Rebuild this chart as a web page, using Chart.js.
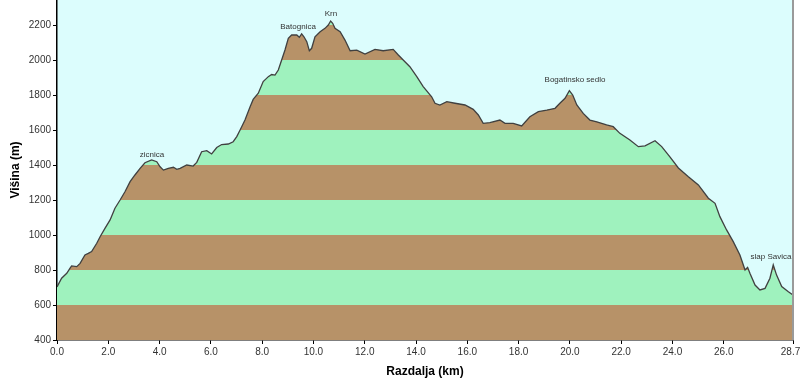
<!DOCTYPE html>
<html>
<head>
<meta charset="utf-8">
<script src="https://cdn.jsdelivr.net/npm/chart.js@4.4.1/dist/chart.umd.min.js"></script>
<style>
  html, body { margin: 0; padding: 0; background: #fff; }
  #wrap { width: 800px; height: 389px; }
</style>
</head>
<body>
<div id="wrap"><canvas id="profile"></canvas></div>
<script>
// distance (km) and elevation (m)
const distance = [0.00, 0.18, 0.38, 0.51, 0.57, 0.77, 0.90, 1.09, 1.22, 1.35, 1.55, 1.68, 1.87, 2.07, 2.26, 2.46, 2.65, 2.85, 3.04, 3.24, 3.43, 3.69, 3.89, 4.02, 4.15, 4.34, 4.54, 4.67, 4.80, 5.06, 5.31, 5.45, 5.64, 5.84, 6.03, 6.23, 6.42, 6.68, 6.87, 7.01, 7.14, 7.33, 7.53, 7.65, 7.85, 8.04, 8.24, 8.37, 8.50, 8.63, 8.76, 8.89, 9.02, 9.15, 9.35, 9.45, 9.54, 9.63, 9.74, 9.84, 9.93, 10.06, 10.26, 10.45, 10.58, 10.67, 10.75, 10.84, 11.04, 11.23, 11.43, 11.69, 12.01, 12.40, 12.72, 13.11, 13.31, 13.50, 13.76, 14.03, 14.28, 14.61, 14.74, 14.93, 15.20, 15.52, 15.91, 16.23, 16.43, 16.62, 16.88, 17.27, 17.47, 17.79, 18.12, 18.44, 18.77, 19.10, 19.42, 19.61, 19.81, 19.98, 20.11, 20.27, 20.52, 20.78, 21.05, 21.43, 21.69, 21.95, 22.34, 22.67, 22.93, 23.32, 23.58, 23.90, 24.23, 24.62, 25.01, 25.40, 25.66, 25.85, 26.11, 26.37, 26.63, 26.83, 26.93, 27.02, 27.22, 27.41, 27.61, 27.80, 27.93, 28.06, 28.26, 28.52, 28.70];
const elevation = [703, 753, 781, 811, 823, 819, 838, 886, 895, 905, 953, 990, 1038, 1086, 1153, 1200, 1247, 1305, 1343, 1381, 1413, 1429, 1419, 1390, 1371, 1381, 1387, 1375, 1381, 1400, 1394, 1415, 1476, 1482, 1463, 1500, 1517, 1520, 1533, 1562, 1600, 1657, 1733, 1775, 1810, 1877, 1905, 1917, 1914, 1943, 2000, 2057, 2124, 2143, 2143, 2130, 2149, 2133, 2105, 2053, 2067, 2133, 2162, 2181, 2200, 2223, 2210, 2181, 2162, 2114, 2053, 2057, 2034, 2061, 2053, 2061, 2029, 2000, 1962, 1905, 1848, 1790, 1753, 1743, 1762, 1753, 1743, 1718, 1686, 1638, 1642, 1657, 1638, 1638, 1623, 1676, 1705, 1714, 1724, 1753, 1781, 1825, 1800, 1743, 1695, 1657, 1647, 1629, 1619, 1581, 1543, 1505, 1509, 1539, 1505, 1447, 1383, 1333, 1286, 1210, 1181, 1105, 1029, 962, 886, 800, 815, 781, 714, 686, 695, 753, 829, 771, 705, 676, 657];

const xTicks = [0, 2, 4, 6, 8, 10, 12, 14, 16, 18, 20, 22, 24, 26, 28.7];
const yTicks = [400, 600, 800, 1000, 1200, 1400, 1600, 1800, 2000, 2200];

// place names and where their text sits (km, m)
const placeNames = ['zicnica', 'Batognica', 'Krn', 'Bogatinsko sedlo', 'slap Savica'];
const placeKm = [3.70, 9.40, 10.68, 20.20, 27.84];
const placeM = [1457, 2189, 2263, 1886, 874];

const BROWN = '#b79268';
const GREEN = '#9ff2be';
const SKY = '#dcfdfd';

// alternating 200 m bands, starting brown at the bottom
function bandFill(context) {
  const chart = context.chart;
  const area = chart.chartArea;
  if (!area) return BROWN;
  const y = chart.scales.y;
  const g = chart.ctx.createLinearGradient(0, area.bottom, 0, area.top);
  const h = area.bottom - area.top;
  const edges = yTicks.concat([y.max]);
  for (let i = 0; i < edges.length - 1; i++) {
    const c = i % 2 === 0 ? BROWN : GREEN;
    const t0 = (area.bottom - y.getPixelForValue(edges[i])) / h;
    const t1 = (area.bottom - y.getPixelForValue(edges[i + 1])) / h;
    g.addColorStop(Math.max(0, Math.min(1, t0)), c);
    g.addColorStop(Math.max(0, Math.min(1, t1)), c);
  }
  return g;
}

const skyPlugin = {
  id: 'sky',
  beforeDraw(chart) {
    const { ctx, chartArea: a } = chart;
    ctx.save();
    ctx.fillStyle = SKY;
    ctx.fillRect(a.left, a.top, a.right - a.left, a.bottom - a.top);
    ctx.restore();
  },
  afterDraw(chart) {
    const { ctx, chartArea: a, scales } = chart;
    ctx.save();
    ctx.strokeStyle = '#9a9a9a';
    ctx.lineWidth = 2;
    ctx.beginPath();
    ctx.moveTo(a.right, a.top);
    ctx.lineTo(a.right, a.bottom);
    ctx.stroke();
    ctx.fillStyle = '#333';
    ctx.font = '8px "Liberation Sans", Arial, sans-serif';
    ctx.textAlign = 'center';
    ctx.textBaseline = 'middle';
    placeNames.forEach((name, i) => {
      ctx.fillText(name, scales.x.getPixelForValue(placeKm[i]), scales.y.getPixelForValue(placeM[i]));
    });
    ctx.restore();
  }
};

Chart.defaults.font.family = '"Liberation Sans", Arial, sans-serif';
Chart.defaults.color = '#333';

new Chart(document.getElementById('profile'), {
  type: 'line',
  data: {
    datasets: [{
      data: distance.map((d, i) => ({ x: d, y: elevation[i] })),
      borderColor: '#404040',
      borderWidth: 1.3,
      backgroundColor: bandFill,
      fill: 'start',
      pointRadius: 0,
      tension: 0,
    }],
  },
  options: {
    responsive: true,
    maintainAspectRatio: false,
    animation: false,
    layout: { padding: { top: 0, right: 7, left: 0, bottom: 0 } },
    plugins: { legend: { display: false }, tooltip: { enabled: false } },
    scales: {
      x: {
        type: 'linear',
        min: 0,
        max: 28.7,
        afterBuildTicks: s => { s.ticks = xTicks.map(v => ({ value: v })); },
        afterFit: s => { s.height = 49; s.paddingLeft = 0; s.paddingRight = 0; },
        ticks: {
          autoSkip: false,
          maxRotation: 0,
          padding: 2,
          font: { size: 10 },
          callback: v => v === 28.7 ? '28.7\u2002' : v.toFixed(1),
        },
        grid: { drawOnChartArea: false, drawTicks: true, tickLength: 4, color: '#000' },
        border: { color: '#000', width: 1.5 },
        title: {
          display: true,
          text: 'Razdalja (km)',
          color: '#000',
          font: { size: 12, weight: 'bold' },
          padding: { top: 0, bottom: 10 },
        },
      },
      y: {
        min: 400,
        max: 2343,
        afterBuildTicks: s => { s.ticks = yTicks.map(v => ({ value: v })); },
        afterFit: s => { s.width = 57; s.paddingTop = 0; s.paddingBottom = 0; },
        ticks: { padding: 2, font: { size: 10 }, callback: v => String(v) },
        grid: { drawOnChartArea: false, drawTicks: true, tickLength: 4, color: '#000' },
        border: { color: '#000', width: 1.5 },
        title: {
          display: true,
          text: 'Višina (m)',
          color: '#000',
          font: { size: 12, weight: 'bold' },
          padding: { top: 8, bottom: 0 },
        },
      },
    },
  },
  plugins: [skyPlugin],
});
</script>
</body>
</html>
